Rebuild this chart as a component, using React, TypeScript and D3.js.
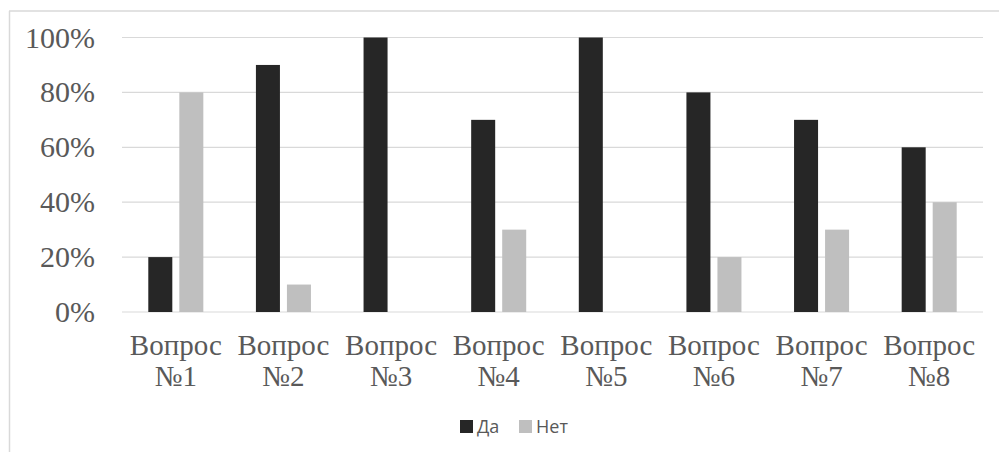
import React from "react";
import * as d3 from "d3";

const categories = ["Вопрос №1", "Вопрос №2", "Вопрос №3", "Вопрос №4", "Вопрос №5", "Вопрос №6", "Вопрос №7", "Вопрос №8"];
const seriesNames = ["Да", "Нет"];
const yesValues = [20, 90, 100, 70, 100, 80, 70, 60];
const noValues = [80, 10, 0, 30, 0, 20, 30, 40];
const yTicks = [0, 20, 40, 60, 80, 100];
const seriesColors = ["#262626", "#bfbfbf"];

const W = 999;
const H = 452;

const css = `
  .serif-label { font-family: "Liberation Serif", "Times New Roman", serif; fill: #595959; }
  .legend-label { font-family: "Open Sans", "Liberation Sans", sans-serif; fill: #595959; }
`;

export default function App() {
  const x0 = d3.scaleBand<string>().domain(categories).range([122, 983]).padding(0);
  const x1 = d3
    .scaleBand<string>()
    .domain(seriesNames)
    .range([0, x0.bandwidth()])
    .paddingInner(0.226)
    .paddingOuter(0.848);
  const y = d3.scaleLinear().domain([0, 100]).range([312, 37.5]);
  const seriesValues = [yesValues, noValues];

  return (
    <svg width={W} height={H} viewBox={`0 0 ${W} ${H}`} style={{ position: "absolute", left: 0, top: 0 }}>
      <style>{css}</style>
      <rect x={0} y={0} width={W} height={H} fill="#fff" />
      {/* chart frame */}
      <line x1={9.5} x2={9.5} y1={11} y2={H} stroke="#d9d9d9" strokeWidth={1.5} />
      <line x1={9} x2={W} y1={11} y2={11} stroke="#d9d9d9" strokeWidth={1.5} />

      {/* gridlines and y ticks */}
      {yTicks.map((t) => (
        <g key={t}>
          <line x1={122} x2={983} y1={y(t)} y2={y(t)} stroke="#d9d9d9" strokeWidth={1.2} />
          <text className="serif-label" x={95} y={y(t) + 10} textAnchor="end" fontSize={30}>
            {`${t}%`}
          </text>
        </g>
      ))}

      {/* bars */}
      {categories.map((c, i) => (
        <g key={c} transform={`translate(${x0(c)},0)`}>
          {seriesNames.map((s, k) => {
            const v = seriesValues[k][i];
            if (v <= 0) return null;
            return (
              <rect
                key={s}
                x={x1(s)}
                y={y(v)}
                width={x1.bandwidth()}
                height={y(0) - y(v)}
                fill={seriesColors[k]}
              />
            );
          })}
        </g>
      ))}

      {/* category labels */}
      {categories.map((c) => {
        const [l1, l2] = c.split(" ");
        const cx = (x0(c) as number) + x0.bandwidth() / 2;
        return (
          <g key={c}>
            <text className="serif-label" x={cx} y={355} textAnchor="middle" fontSize={29}>
              {l1}
            </text>
            <text className="serif-label" x={cx} y={386} textAnchor="middle" fontSize={29}>
              {l2}
            </text>
          </g>
        );
      })}

      {/* legend */}
      {seriesNames.map((s, k) => {
        const lx = k === 0 ? 460 : 519;
        return (
          <g key={s}>
            <rect x={lx} y={420} width={13} height={13} fill={seriesColors[k]} />
            <text className="legend-label" x={lx + 17} y={433} fontSize={18}>
              {s}
            </text>
          </g>
        );
      })}
    </svg>
  );
}
